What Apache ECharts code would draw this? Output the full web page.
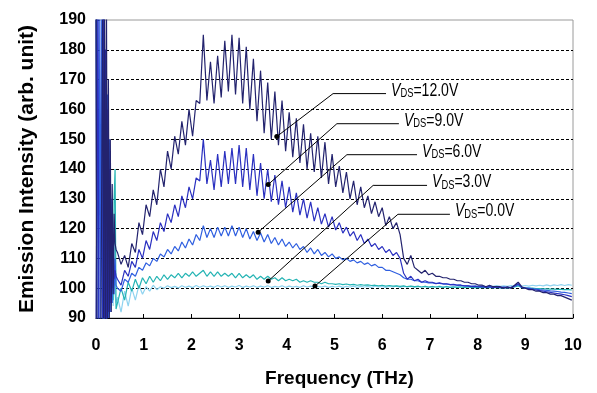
<!DOCTYPE html>
<html>
<head>
<meta charset="utf-8">
<script src="https://cdn.jsdelivr.net/npm/echarts@6/dist/echarts.min.js"></script>
<style>
html,body{margin:0;padding:0;background:#fff;}
#c{width:597px;height:393px;}
</style>
</head>
<body>
<div id="c"></div>
<script>
// ---- data ----
var xTicks = [0,1,2,3,4,5,6,7,8,9,10];
var yTicks = [90,100,110,120,130,140,150,160,170,180,190];
// low-frequency sampling (noisy region)
var lowF = [0,0.02,0.04,0.06,0.08,0.10,0.12,0.14,0.16,0.18,0.20,0.22,0.24,0.26,0.28,0.30,0.32,0.34,0.36,0.38,0.40,0.42];
var low12 = [195,85,80,80,80,80,80,195,85,195,86,192,88,170,90,150,92,135,98,125,115,113];
var low9  = [80,80,195,85,80,80,80,80,195,85,180,88,160,92,140,95,125,100,115,103,106,104];
var low6  = [195,85,195,85,195,85,195,85,195,85,180,88,165,90,150,92,130,95,118,98,110,101];
var low3  = [80,80,80,80,80,80,80,80,85,180,90,160,95,140,98,125,100,118,96,130,140,93];
var low0  = [80,80,80,80,80,80,80,80,88,170,90,150,92,130,95,115,97,105,94,120,98,95];
// main sampling: starts at 0.45 THz, step 0.075 THz
var mainStart = 0.45, mainStep = 0.075;
var v12 = [112,108,111,107,115,112,122,118,128,124,
133,128,140,134,146,140,151,145,156,148,
160,151,163,162,185,163,176,162,178,164,
183,166,185,165,184,162,181,160,177,156,
173,152,169,150,166,148,163,146,159,144,
157,142,155,140,152,139,151,137,149,135,
145,134,141,132,139,130,136,128,134,127,
131,125,129,124,127,121,124,120,122,118,
110,108,111,107,106,105,106,104.5,105,104,
104,103.5,103.5,103,103,102.5,102.5,102,102,101.5,
101.5,101,101,100.5,101,100.5,100.5,100.5,100,100.5,
100,101,102,100.5,100,99.5,99.5,99,99,98.5,
98.5,98,98,97.5,97.5,97,96.5,96];
var v9 = [103,101,106,104,109,107,113,110,116,113,
119,116,122,119,125,122,128,124,131,127,
134,130,137,136,150,135,143,133,145,134,
146,135,147,135,148,134,147,133,145,131,
142,130,140,129,138,128,136,127,134,125.5,
132,124.5,130,123.5,129,122.5,127,121.5,125,120.5,
124,119.5,122,118.5,120.5,117.5,119,116,118,115,
116.5,114,115,113,114,112,113,111,112,110,
105,103,104,102.5,103,102,102.5,102,102,101.5,
101.8,101.5,101.5,101.2,101.3,101,101,100.8,100.8,100.5,
100.6,100.4,100.5,100.3,100.5,100.2,100.4,100.2,100.3,100.2,
100.2,100.8,101.5,100.3,100,99.8,99.6,99.4,99.2,99,
98.8,98.6,98.4,98.2,98,97.8,97.5,97.2];
var v6 = [100,99,103,102,105,104,107,106,108.5,107.5,
110,109,111.5,110.5,113,111.5,114,112.5,115.5,113.5,
116.5,114.5,118,116,121,117,120,117,120.5,117.5,
120.5,117.5,121,117.5,120.5,117,120,116.5,119,116,
118.5,115.5,118,115,117,114.5,116.5,114,115.5,113.5,
115,113,114,112,113.5,111.5,113,111,112,110.5,
111.5,110,110.5,109.5,110,109,109.5,108.5,109,108,
108.5,107.5,108,107,107,106,106,105.5,105,104.5,
103.5,103,103,102.5,102.5,102,102,101.8,101.8,101.6,
101.6,101.4,101.4,101.2,101.2,101,101,100.8,100.8,100.7,
100.7,100.6,100.6,100.5,100.5,100.4,100.5,100.3,100.4,100.3,
100.3,100.6,101.2,100.3,100.1,100,99.8,99.7,99.5,99.4,
99.3,99.1,99,98.9,98.7,98.6,98.4,98.2];
var v3 = [95,100,96,102,99,103,100,103.5,101.5,104,
102,104,102.5,104.5,103,104.5,103.5,105,103.5,105,
104,105.5,104,105,106,104,105.5,104,105.5,104,
105,104,105,103.5,105,103.5,104.5,103.5,104.5,103,
104,103,104,103,103.5,102.5,103.5,102.5,103,102.5,
103,102,102.5,102,102.5,102,102,101.5,102,101.5,
101.5,101.3,101.5,101.2,101.4,101.1,101.3,101,101.2,101,
101.1,100.9,101,100.8,101,100.7,100.9,100.7,100.8,100.6,
100.8,100.5,100.7,100.5,100.6,100.4,100.6,100.4,100.5,100.4,
100.5,100.3,100.5,100.3,100.4,100.3,100.4,100.2,100.4,100.2,
100.3,100.2,100.3,100.2,100.3,100.1,100.3,100.1,100.2,100.1,
100.2,100.4,100.8,100.2,100.1,100,100,99.9,99.9,99.8,
99.8,99.7,99.7,99.6,99.6,99.5,99.5,99.4];
var v0 = [97,92,99,94,100,96,101,98,100.5,99,
101,99.5,100.5,100,100.8,100.2,100.6,100.1,100.8,100.3,
100.7,100.2,100.9,100.3,100.8,100.4,100.7,100.3,100.9,100.4,
100.8,100.3,100.7,100.4,100.9,100.3,100.7,100.4,100.8,100.3,
100.7,100.4,100.8,100.3,100.6,100.4,100.8,100.3,100.7,100.4,
100.6,100.3,100.8,100.4,100.7,100.3,100.6,100.4,100.7,100.3,
100.6,100.4,100.7,100.3,100.6,100.4,100.7,100.3,100.6,100.4,
100.6,100.3,100.7,100.4,100.6,100.3,100.6,100.4,100.7,100.3,
100.6,100.4,100.6,100.3,100.7,100.4,100.6,100.3,100.6,100.4,
100.7,100.4,100.6,100.3,100.6,100.4,100.7,100.4,100.6,100.4,
100.7,100.5,100.8,100.5,100.7,100.6,100.9,100.6,100.8,100.6,
100.9,100.7,101,100.7,100.9,100.7,101,100.8,101,100.8,
101.1,100.8,101.1,100.9,101.2,100.9,101.2,101];
// annotation labels and leader anchor points (data coords)
var labels = ['12.0V','9.0V','6.0V','3.0V','0.0V'];
var leaderDot    = [[3.79,150.9],[3.61,134.8],[3.40,118.8],[3.61,102.4],[4.59,100.7]];
var leaderCorner = [[4.97,165.3],[5.05,155.2],[5.26,144.8],[5.81,134.5],[6.33,124.8]];
var leaderEndX   = [6.08,6.35,6.73,6.94,7.42];

// ---- build ----
function build(lowVals, mainVals){
  var d = [];
  for (var i=0;i<lowF.length;i++) d.push([lowF[i], lowVals[i]]);
  for (var k=0;k<mainVals.length;k++) d.push([+(mainStart+mainStep*k).toFixed(4), mainVals[k]]);
  return d;
}
var seriesDefs = [
  {name:'0.0V', low:low0, main:v0, color:'#8fd3f0'},
  {name:'3.0V', low:low3, main:v3, color:'#25b4b4'},
  {name:'6.0V', low:low6, main:v6, color:'#2f5fe0'},
  {name:'9.0V', low:low9, main:v9, color:'#2a30c0'},
  {name:'12.0V', low:low12, main:v12, color:'#23236e'}
];
var series = seriesDefs.map(function(s){
  return {type:'line', name:s.name, data:build(s.low,s.main), showSymbol:false, symbol:'none',
    lineStyle:{color:s.color, width:1.2}, animation:false, clip:true, silent:true};
});
labels.forEach(function(lb,i){
  series.push({
    type:'line', animation:false, silent:true, clip:false, z:10,
    showSymbol:true, symbol:'circle',
    symbolSize:function(v,p){return p.dataIndex===0?5:0;},
    itemStyle:{color:'#000'},
    lineStyle:{color:'#000', width:1},
    data:[leaderDot[i], leaderCorner[i], [leaderEndX[i], leaderCorner[i][1]]]
  });
});

var FONT = 'Liberation Sans, Arial, sans-serif';
var chart = echarts.init(document.getElementById('c'), null, {renderer:'canvas', width:597, height:393});
chart.setOption({
  backgroundColor:'#fff',
  animation:false,
  grid:{left:96, top:20, width:477, height:299, show:true, borderColor:'#9a9a9a', borderWidth:1, backgroundColor:'transparent'},
  xAxis:{type:'value', min:0, max:10, interval:1,
    name:'Frequency (THz)', nameLocation:'middle', nameGap:51,
    nameTextStyle:{fontFamily:FONT, fontWeight:'bold', fontSize:19, color:'#000', padding:[0,0,0,10]},
    axisLine:{show:true, lineStyle:{color:'#000', width:1}},
    axisTick:{show:true, inside:true, length:4, lineStyle:{color:'#000'}},
    axisLabel:{margin:20, fontFamily:FONT, fontWeight:'bold', fontSize:16, color:'#000',
      formatter:function(v){return xTicks.indexOf(v)>=0?String(v):'';}},
    splitLine:{show:false}
  },
  yAxis:{type:'value', min:90, max:190, interval:10,
    name:'Emission Intensity (arb. unit)', nameLocation:'middle', nameGap:58,
    nameTextStyle:{fontFamily:FONT, fontWeight:'bold', fontSize:21, color:'#000'},
    axisLine:{show:true, lineStyle:{color:'#000', width:1}},
    axisTick:{show:true, inside:true, length:4, lineStyle:{color:'#000'}},
    axisLabel:{margin:10, fontFamily:FONT, fontWeight:'bold', fontSize:16, color:'#000',
      formatter:function(v){return yTicks.indexOf(v)>=0?String(v):'';}},
    splitLine:{show:true, showMinLine:false, showMaxLine:false, lineStyle:{color:'#000', type:[3,2], width:1}}
  },
  series:series
});

// condensed annotation texts, placed at the leader line ends through the axis scales
var graphics = labels.map(function(lb,i){
  var p = chart.convertToPixel({gridIndex:0}, [leaderEndX[i], leaderCorner[i][1]]);
  return {
    type:'text', x:p[0]+5, y:p[1]-12, scaleX:0.78, scaleY:1, z:20, silent:true,
    style:{
      text:'{v|V}{s|DS}{t|='+lb+'}',
      verticalAlign:'top', align:'left',
      rich:{
        v:{fontFamily:FONT, fontSize:18, fontStyle:'italic', fill:'#000', verticalAlign:'top', lineHeight:18},
        s:{fontFamily:FONT, fontSize:12, fill:'#000', verticalAlign:'bottom', lineHeight:12, padding:[13,0,0,0]},
        t:{fontFamily:FONT, fontSize:18, fill:'#000', verticalAlign:'top', lineHeight:18}
      }
    }
  };
});
chart.setOption({graphic:graphics});
</script>
</body>
</html>
